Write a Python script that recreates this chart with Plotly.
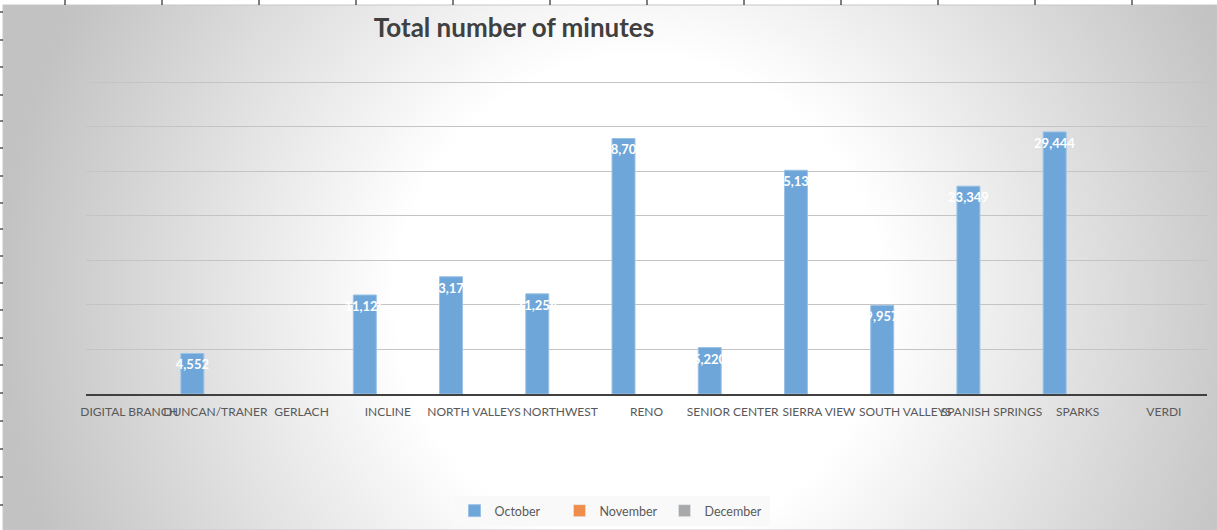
import base64
import plotly.graph_objects as go

categories = ["DIGITAL BRANCH", "DUNCAN/TRANER", "GERLACH", "INCLINE", "NORTH VALLEYS",
              "NORTHWEST", "RENO", "SENIOR CENTER", "SIERRA VIEW", "SOUTH VALLEYS",
              "SPANISH SPRINGS", "SPARKS", "VERDI"]
october = [None, 4552, None, 11125, 13175, 11254, 28705, 5220, 25135, 9957, 23349, 29444, None]
november = [None] * 13
december = [None] * 13

W, H = 1217, 530
ML, MR, MT, MB = 86, 10, 78, 136
YMAX = 35500

# background: radial gradient panel plus spreadsheet cell ticks
top_ticks = [65, 162, 259, 356, 453, 550, 647, 744, 841, 938, 1035, 1132]
left_ticks = [12, 40, 67, 95, 121, 148, 176, 203, 229, 256, 283, 310, 338, 365, 393, 421, 449, 477, 505]
tick_svg = "".join(f'<line x1="{x}" y1="0" x2="{x}" y2="5" stroke="#000" stroke-width="1"/>' for x in top_ticks)
tick_svg += "".join(f'<line x1="0" y1="{y}" x2="3" y2="{y}" stroke="#000" stroke-width="1"/>' for y in left_ticks)
svg = f'''<svg xmlns="http://www.w3.org/2000/svg" width="{W}" height="{H}" viewBox="0 0 {W} {H}">
<defs><radialGradient id="g" gradientUnits="userSpaceOnUse" cx="640" cy="300" r="640">
<stop offset="0" stop-color="#ffffff"/><stop offset="0.38" stop-color="#ffffff"/>
<stop offset="1" stop-color="#c2c2c2"/></radialGradient></defs>
<rect x="0" y="0" width="{W}" height="{H}" fill="#ffffff"/>
<rect x="3" y="5" width="{W-3}" height="{H-5}" fill="url(#g)" stroke="#c8c8c8" stroke-width="1"/>
{tick_svg}
</svg>'''
src = "data:image/svg+xml;base64," + base64.b64encode(svg.encode()).decode()

pw, ph = W - ML - MR, H - MT - MB

fig = go.Figure()
fig.add_trace(go.Bar(name="October", x=categories, y=october, marker_color="#6fa6d9",
                     marker_line=dict(color="#9cc3e6", width=1),
                     text=[f"{v:,}" if v else "" for v in october],
                     textposition="inside", insidetextanchor="end", constraintext="none",
                     textangle=0, textfont=dict(color="white", size=13, family="Lato", weight="bold")))
fig.add_trace(go.Bar(name="November", x=categories, y=november, marker_color="#f08c4c"))
fig.add_trace(go.Bar(name="December", x=categories, y=december, marker_color="#a9a9a9"))

fig.update_layout(
    width=W, height=H,
    margin=dict(l=ML, r=MR, t=MT, b=MB, autoexpand=False),
    paper_bgcolor="rgba(0,0,0,0)", plot_bgcolor="rgba(0,0,0,0)",
    barmode="group", bargap=0.2, bargroupgap=0,
    font=dict(family="Lato", size=12, color="#595959"),
    title=dict(text="<b>Total number of minutes</b>", x=514 / W, xanchor="center",
               y=1 - 28 / H, yanchor="middle", font=dict(size=26, color="#404040", family="Lato")),
    xaxis=dict(showgrid=False, showline=True, linecolor="#404040", linewidth=2,
               ticks="", tickfont=dict(size=12, color="#595959"), tickangle=0,
               ticklabelstandoff=6),
    yaxis=dict(range=[0, YMAX], tickvals=[5000, 10000, 15000, 20000, 25000, 30000, 35000],
               showgrid=True, gridcolor="#c4c4c4",
               gridwidth=1, showticklabels=False, zeroline=False),
    legend=dict(orientation="h", x=(612 - ML) / pw, xanchor="center",
                y=-(511 - MT - ph) / ph, yanchor="middle",
                bgcolor="rgba(248,248,248,0.9)", font=dict(size=12.5, color="#595959"),
                itemwidth=30, entrywidth=60, traceorder="normal"),
    images=[dict(source=src, xref="paper", yref="paper", x=-ML / pw, y=1 + MT / ph,
                 sizex=W / pw, sizey=H / ph, xanchor="left", yanchor="top",
                 sizing="stretch", layer="below")],
)

fig.write_html("out.html", config={"displayModeBar": False},
               post_script="document.body.style.margin='0';document.body.style.overflow='hidden';")
